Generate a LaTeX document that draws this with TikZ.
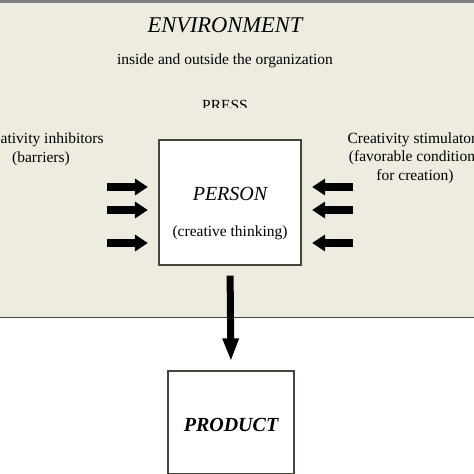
\documentclass[tikz,border=0pt]{standalone}
\usepackage{fontspec}
\setmainfont{Liberation Serif}
\usetikzlibrary{arrows.meta, positioning}
\definecolor{envfill}{RGB}{238,235,224}
\definecolor{envline}{RGB}{70,70,62}

\begin{document}
\begin{tikzpicture}[x=1pt, y=-1pt,
		every node/.style={inner sep=0pt, align=center, font=\fontsize{15.5}{18.5}\selectfont},
		box/.style={draw=envline, line width=1.2pt, fill=white},
		envtitle/.style={font=\fontsize{22.5}{26}\selectfont\itshape},
		personname/.style={font=\fontsize{20}{24}\selectfont\itshape},
		productname/.style={font=\fontsize{20}{24}\selectfont\bfseries\itshape},
		push/.style={line width=8pt, -{Triangle[length=13pt, width=16pt]}},
		drop/.style={line width=7pt, -{Triangle[length=23pt, width=15pt]}, shorten <=10pt, shorten >=9pt}]
		\useasboundingbox (0,0) rectangle (474,474);
		\clip (0,0) rectangle (474,474);
		\fill[envfill] (0,2) rectangle (474,317);
		\draw[gray, line width=2.5pt] (0,1.25) -- (474,1.25);
		\draw[envline, line width=1.5pt] (0,317.5) -- (474,317.5);
		\node[box, minimum width=142pt, minimum height=125pt] (person) at (230,202.5) {};
		\node[box, minimum width=126pt, minimum height=102.5pt] (product) at (231,422.25) {};
		\node[envtitle, anchor=base] (environment) at (225,32) {ENVIRONMENT};
		\node[anchor=base] (organization) at (225,64) {inside and outside the organization};
		\begin{scope}
			\clip (0,0) rectangle (474,107.5);
			\node[anchor=base] (press) at (225,110) {PRESS};
		\end{scope}
		\node[anchor=base] (inhibitors) at (41,162) {Creativity inhibitors\\(barriers)};
		\node[anchor=base] (stimulators) at (415,180) {Creativity stimulators\\(favorable conditions\\for creation)};
		\node[personname, anchor=base] (personlabel) at (230,200) {PERSON};
		\node[anchor=base] (thinking) at (230,236) {(creative thinking)};
		\node[productname, anchor=base] (productlabel) at (231,431) {PRODUCT};
		\foreach \y [count=\i] in {187,210,243} {
			\coordinate (inhibit\i) at (107,\y);
			\coordinate (stimulate\i) at (353,\y);
			\draw[push, shorten >=10.5pt] (inhibit\i) -- (inhibit\i -| person.west);
			\draw[push, shorten >=10.5pt] (stimulate\i) -- (stimulate\i -| person.east);
		}
		\draw[drop] (person.south) -- (product.north);
	\end{tikzpicture}
\end{document}
